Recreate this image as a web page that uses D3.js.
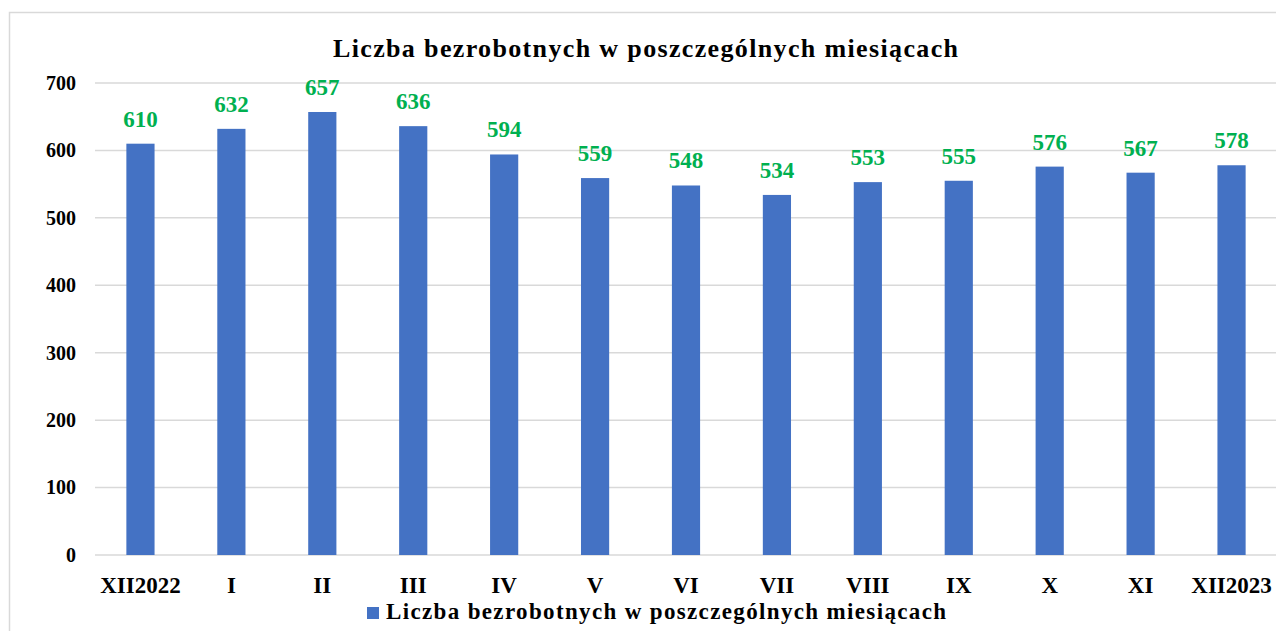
<!DOCTYPE html>
<html>
<head>
<meta charset="utf-8">
<script src="https://cdnjs.cloudflare.com/ajax/libs/d3/7.8.5/d3.min.js"></script>
<style>
  body { margin: 0; background: #fff; }
  text { font-family: "Liberation Serif", serif; font-weight: bold; }
</style>
</head>
<body>
<div id="chart"></div>
<script>
var months = ["XII2022", "I", "II", "III", "IV", "V", "VI", "VII", "VIII", "IX", "X", "XI", "XII2023"]
var unemployed = [610, 632, 657, 636, 594, 559, 548, 534, 553, 555, 576, 567, 578]
var yTicks = [0, 100, 200, 300, 400, 500, 600, 700]
var title = "Liczba bezrobotnych w poszczególnych miesiącach"

var W = 1276, H = 631
var margin = {top: 83, right: -1, bottom: 76, left: 95}
var width = W - margin.left - margin.right
var height = H - margin.top - margin.bottom

var svg = d3.select("#chart").append("svg")
    .attr("width", W)
    .attr("height", H)

// outer frame of the chart
svg.append("rect")
    .attr("x", 9.5).attr("y", 12.5)
    .attr("width", W + 20).attr("height", H + 20)
    .attr("fill", "none")
    .attr("stroke", "#d9d9d9")
    .attr("stroke-width", 1.5)

// the original font is wider (Palatino-like), so spread the letters out
svg.append("text")
    .attr("x", 333).attr("y", 57)
    .attr("font-size", 26)
    .attr("textLength", 625)
    .attr("fill", "#000")
    .text(title)

var g = svg.append("g")
    .attr("transform", "translate(" + margin.left + "," + margin.top + ")")

var x = d3.scaleBand()
    .domain(months)
    .range([0, width])
    .paddingInner(0.69)
    .paddingOuter(0.345)

var y = d3.scaleLinear()
    .domain([0, 700])
    .range([height, 0])

// gridlines
g.selectAll(".grid")
    .data(yTicks)
    .enter()
    .append("line")
    .attr("x1", 0).attr("x2", width)
    .attr("y1", function(d){ return y(d) })
    .attr("y2", function(d){ return y(d) })
    .attr("stroke", "#d9d9d9")
    .attr("stroke-width", 1.5)

var yAxis = g.append("g")
    .call(d3.axisLeft(y).tickValues(yTicks).tickSize(0).tickPadding(19))
yAxis.select(".domain").remove()
yAxis.selectAll("text")
    .attr("font-size", 20)
    .attr("font-family", "Liberation Serif")
    .attr("fill", "#000")

g.selectAll(".bar")
    .data(unemployed)
    .enter()
    .append("rect")
    .attr("class", "bar")
    .attr("x", function(d, i){ return x(months[i]) })
    .attr("width", x.bandwidth())
    .attr("y", function(d){ return y(d) })
    .attr("height", function(d){ return height - y(d) })
    .attr("fill", "#4472c4")

g.selectAll(".val")
    .data(unemployed)
    .enter()
    .append("text")
    .attr("class", "val")
    .attr("x", function(d, i){ return x(months[i]) + x.bandwidth() / 2 })
    .attr("y", function(d){ return y(d) - 17 })
    .attr("text-anchor", "middle")
    .attr("font-size", 23)
    .attr("fill", "#00b050")
    .text(function(d){ return d })

var xAxis = g.append("g")
    .attr("transform", "translate(0," + height + ")")
    .call(d3.axisBottom(x).tickSize(0).tickPadding(22))
xAxis.select(".domain").remove()
xAxis.selectAll("text")
    .attr("font-size", 23)
    .attr("font-family", "Liberation Serif")
    .attr("fill", "#000")

// legend
var legend = svg.append("g").attr("transform", "translate(367,607)")
legend.append("rect")
    .attr("width", 12).attr("height", 12)
    .attr("fill", "#4472c4")
legend.append("text")
    .attr("x", 19).attr("y", 12)
    .attr("font-size", 23)
    .attr("textLength", 560)
    .attr("fill", "#000")
    .text(title)
</script>
</body>
</html>
